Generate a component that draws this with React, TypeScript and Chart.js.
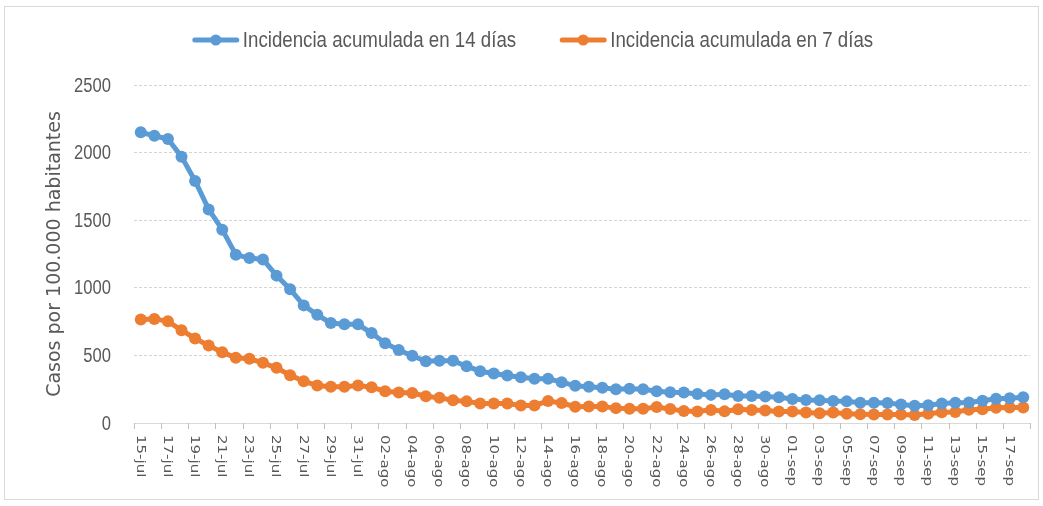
import { useEffect, useRef } from 'react';
import { Chart, registerables } from 'chart.js';

Chart.register(...registerables);

const dates: string[] = [
  '15-jul', '16-jul', '17-jul', '18-jul', '19-jul', '20-jul', '21-jul', '22-jul', '23-jul',
  '24-jul', '25-jul', '26-jul', '27-jul', '28-jul', '29-jul', '30-jul', '31-jul',
  '01-ago', '02-ago', '03-ago', '04-ago', '05-ago', '06-ago', '07-ago', '08-ago', '09-ago',
  '10-ago', '11-ago', '12-ago', '13-ago', '14-ago', '15-ago', '16-ago', '17-ago', '18-ago',
  '19-ago', '20-ago', '21-ago', '22-ago', '23-ago', '24-ago', '25-ago', '26-ago', '27-ago',
  '28-ago', '29-ago', '30-ago', '31-ago',
  '01-sep', '02-sep', '03-sep', '04-sep', '05-sep', '06-sep', '07-sep', '08-sep', '09-sep',
  '10-sep', '11-sep', '12-sep', '13-sep', '14-sep', '15-sep', '16-sep', '17-sep', '18-sep',
];

const incidence14: number[] = [
  2150, 2125, 2100, 1970, 1790, 1580, 1430, 1245, 1220, 1210, 1090, 990, 870, 800, 740, 730, 730,
  665, 590, 540, 497, 457, 460, 460, 420, 383, 366, 351, 339, 327, 327, 302, 275, 268, 260,
  250, 253, 250, 235, 228, 225, 215, 208, 212, 200, 200, 196, 190,
  178, 170, 168, 162, 160, 150, 149, 148, 137, 128, 132, 145, 150, 152, 165, 180, 183, 190,
];

const incidence7: number[] = [
  765, 770, 752, 686, 625, 573, 524, 482, 475, 445, 408, 354, 309, 277, 268, 268, 277,
  265, 235, 225, 222, 198, 186, 169, 160, 145, 144, 144, 130, 130, 162, 148, 120, 122, 122,
  110, 105, 105, 118, 104, 88, 85, 97, 86, 102, 97, 92, 85,
  85, 78, 72, 78, 68, 64, 62, 62, 62, 60, 68, 80, 82, 98, 102, 113, 115, 115,
];

const seriesNames: string[] = ['Incidencia acumulada en 14 días', 'Incidencia acumulada en 7 días'];
const yTicks: number[] = [0, 500, 1000, 1500, 2000, 2500];
const yTitle = 'Casos por 100.000 habitantes';

const BLUE = '#5B9BD5';
const ORANGE = '#ED7D31';
const TEXT = '#595959';
const SANS = '"Liberation Sans", Arial, sans-serif';

function narrowText(ctx: any, text: string, x: number, y: number, sx: number, align: string) {
  ctx.save();
  ctx.translate(x, y);
  ctx.scale(sx, 1);
  ctx.textAlign = align;
  ctx.fillText(text, 0, 0);
  ctx.restore();
}

const customPlugin = {
  id: 'customDraw',
  afterDraw(chart: any) {
    const { ctx, chartArea, scales } = chart;
    const x = scales.x;
    const y = scales.y;
    const n = dates.length;
    const step = x.getPixelForValue(1) - x.getPixelForValue(0);
    ctx.save();
    // tick marks every two categories
    ctx.strokeStyle = '#bfbfbf';
    ctx.lineWidth = 1;
    for (let i = 0; i <= n; i += 2) {
      const px = Math.round(x.getPixelForValue(0) + (i - 0.5) * step) + 0.5;
      ctx.beginPath();
      ctx.moveTo(px, chartArea.bottom);
      ctx.lineTo(px, chartArea.bottom + 6);
      ctx.stroke();
    }
    // rotated x labels (clockwise)
    ctx.fillStyle = TEXT;
    ctx.font = '15px "DejaVu Sans", sans-serif';
    ctx.textAlign = 'left';
    ctx.textBaseline = 'middle';
    for (let i = 0; i < n; i += 2) {
      const px = x.getPixelForValue(i);
      ctx.save();
      ctx.translate(px - 1, chartArea.bottom + 12);
      ctx.rotate(Math.PI / 2);
      ctx.scale(1, 0.8);
      ctx.fillText(dates[i], 0, 0);
      ctx.restore();
    }
    // y tick labels (condensed)
    ctx.font = '20px ' + SANS;
    ctx.textBaseline = 'middle';
    yTicks.forEach((v) => {
      narrowText(ctx, String(v), chartArea.left - 23, y.getPixelForValue(v) + 1, 0.83, 'right');
    });
    // legend
    ctx.font = '22px ' + SANS;
    const sx = 0.85;
    const items = chart.data.datasets.map((ds: any) => ({
      text: ds.label,
      color: ds.borderColor,
      w: ctx.measureText(ds.label).width * sx,
    }));
    const sym = 42;
    const symGap = 6;
    const itemGap = 46;
    let total = 0;
    items.forEach((it: any, k: number) => {
      total += sym + symGap + it.w + (k > 0 ? itemGap : 0);
    });
    let cx = 534 - total / 2;
    const ly = 40;
    items.forEach((it: any) => {
      ctx.strokeStyle = it.color;
      ctx.lineWidth = 5;
      ctx.lineCap = 'round';
      ctx.beginPath();
      ctx.moveTo(cx, ly);
      ctx.lineTo(cx + sym, ly);
      ctx.stroke();
      ctx.fillStyle = it.color;
      ctx.beginPath();
      ctx.arc(cx + sym / 2, ly, 5.5, 0, Math.PI * 2);
      ctx.fill();
      ctx.fillStyle = TEXT;
      ctx.textBaseline = 'middle';
      narrowText(ctx, it.text, cx + sym + symGap, ly + 1, sx, 'left');
      cx += sym + symGap + it.w + itemGap;
    });
    ctx.restore();
  },
};

export default function App() {
  const canvasRef = useRef<HTMLCanvasElement | null>(null);

  useEffect(() => {
    if (!canvasRef.current) return;
    const chart = new Chart(canvasRef.current, {
      type: 'line',
      data: {
        labels: dates,
        datasets: [
          {
            label: seriesNames[0],
            data: incidence14,
            borderColor: BLUE,
            backgroundColor: BLUE,
            borderWidth: 5,
            pointRadius: 6,
            pointBorderWidth: 0,
            pointBackgroundColor: BLUE,
            tension: 0,
          },
          {
            label: seriesNames[1],
            data: incidence7,
            borderColor: ORANGE,
            backgroundColor: ORANGE,
            borderWidth: 5,
            pointRadius: 6,
            pointBorderWidth: 0,
            pointBackgroundColor: ORANGE,
            tension: 0,
          },
        ],
      },
      options: {
        responsive: false,
        animation: false,
        layout: { padding: { top: 85, right: 13, bottom: 0, left: 0 } },
        plugins: {
          legend: { display: false },
          tooltip: { enabled: false },
        },
        scales: {
          x: {
            type: 'category',
            offset: true,
            grid: { display: false, offset: true },
            ticks: { display: false },
            border: { display: true, color: '#d9d9d9', width: 1 },
            afterFit: (scale: any) => {
              scale.height = 83;
            },
          },
          y: {
            min: 0,
            max: 2500,
            afterBuildTicks: (scale: any) => {
              scale.ticks = yTicks.map((v) => ({ value: v }));
            },
            ticks: { display: false },
            grid: {
              color: (c: any) => (c.tick && c.tick.value === 0 ? 'rgba(0,0,0,0)' : '#d4d4d4'),
              drawTicks: false,
              lineWidth: 1,
            },
            border: { display: false, dash: [3, 2] },
            title: {
              display: true,
              text: yTitle,
              color: TEXT,
              font: { family: '"DejaVu Sans", sans-serif', size: 19 },
              padding: { top: 44, bottom: 0 },
            },
            afterFit: (scale: any) => {
              scale.width = 134;
            },
          },
        },
      },
      plugins: [customPlugin],
    });
    return () => chart.destroy();
  }, []);

  return (
    <div style={{ position: 'fixed', left: 0, top: 0, width: 1043, height: 506, background: '#ffffff' }}>
      <div
        style={{
          position: 'absolute',
          left: 4,
          top: 6,
          width: 1035,
          height: 494,
          border: '1px solid #d9d9d9',
          boxSizing: 'border-box',
        }}
      />
      <canvas ref={canvasRef} width={1043} height={506} style={{ position: 'absolute', left: 0, top: 0 }} />
    </div>
  );
}
